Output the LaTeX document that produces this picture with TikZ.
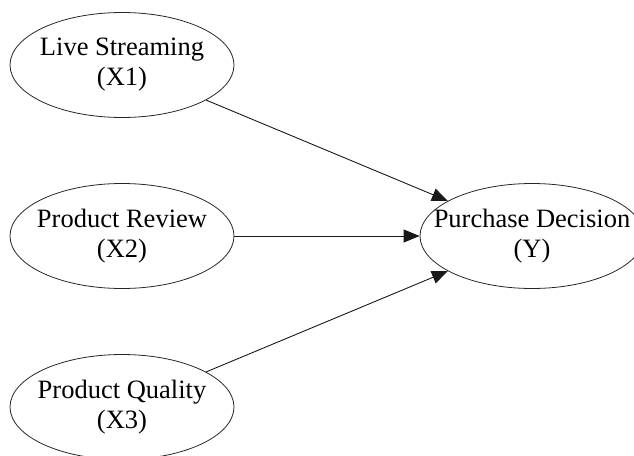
\documentclass[tikz,border=0pt]{standalone}
\usepackage{fontspec}
\setmainfont{Liberation Serif}
\usetikzlibrary{shapes.geometric,arrows.meta,positioning}
\tikzset
{
    varnode/.style = {ellipse, draw=black!85, line width=0.8pt, inner sep=0pt,
                      minimum width=224pt, minimum height=105pt,
                      label={[align=center, font=\fontsize{26.5}{30}\selectfont]center:#1}}
}

\begin{document}
\begin{tikzpicture}
    [->,>={Triangle[length=16pt,width=13pt]},line width=0.9pt,draw=black!90]
    \useasboundingbox (0,0) rectangle (634pt,-455pt);
    \node [varnode={Live Streaming\\(X1)}]     (x1) at (122pt,-65pt)  {};
    \node [varnode={Product Review\\(X2)}]     (x2) at (122pt,-236pt) {};
    \node [varnode={Product Quality\\(X3)}]    (x3) at (122pt,-407pt) {};
    \node [varnode={Purchase Decision\\(Y)}]   (y)  at (532pt,-236pt) {};
    \draw (x1) -- (y);
    \draw (x2) -- (y);
    \draw (x3) -- (y);
\end{tikzpicture}
\end{document}
